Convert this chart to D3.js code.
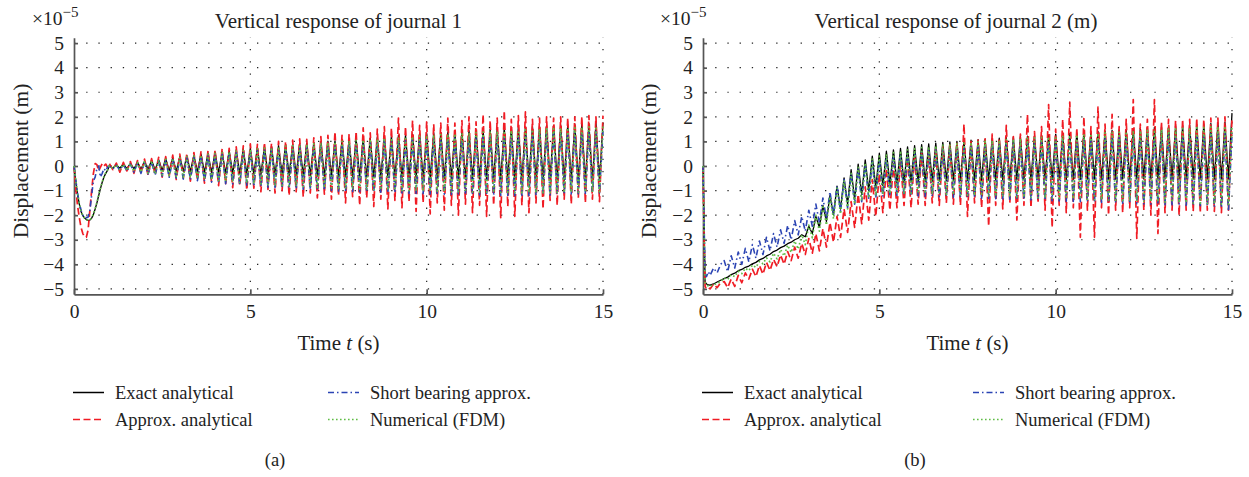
<!DOCTYPE html>
<html lang="en">
<head>
<meta charset="UTF-8">
<title>Vertical response of journals 1 and 2</title>
<script src="https://d3js.org/d3.v7.min.js"></script>
<style>
    * { margin: 0; padding: 0; box-sizing: border-box; }
    html, body { width: 1249px; height: 477px; background: #fff; overflow: hidden; }
    svg { display: block; font-family: "Liberation Serif", "DejaVu Serif", serif; }
    .axis text { font-size: 19.5px; fill: #222; }
    .axis path, .axis line { stroke: #555; stroke-width: 1.7; }
    .grid line { stroke: #222; stroke-width: 1.2; stroke-dasharray: 1.3, 10.9; }
</style>
</head>
<body>
<svg id="chart" width="1249" height="477"></svg>
<script>
// ---------- data: time in s, displacement in units of 1e-5 m ----------
const seriesNames = ["Exact analytical", "Approx. analytical", "Short bearing approx.", "Numerical (FDM)"];
const xTicks = [0, 5, 10, 15];
const yTicks = [-5, -4, -3, -2, -1, 0, 1, 2, 3, 4, 5];

// (a) journal 1, start-up
const tA0 = [0, 0.05, 0.1, 0.15, 0.2, 0.25, 0.3, 0.35, 0.4, 0.45, 0.5, 0.55, 0.6, 0.65, 0.7, 0.75, 0.8, 0.85, 0.9, 0.95];
const aExact0  = [0, -0.6, -1.15, -1.55, -1.85, -2.02, -2.12, -2.18, -2.21, -2.2, -2.12, -1.98, -1.75, -1.5, -1.2, -0.92, -0.66, -0.45, -0.3, -0.18];
const aApprox0 = [0, -0.9, -1.6, -2.1, -2.5, -2.75, -2.88, -2.9, -2.6, -1.8, -1.0, -0.3, 0.1, 0.05, -0.2, -0.05, 0.1, 0.0, 0.08, -0.05];
const aShort0  = [0, -0.55, -1.1, -1.5, -1.8, -2.0, -2.1, -2.1, -2.08, -1.8, -1.2, -0.6, -0.45, -0.1, 0.0, -0.45, -0.3, -0.1, -0.2, -0.05];
const aFdm0    = [0, -0.58, -1.13, -1.53, -1.84, -2.01, -2.12, -2.18, -2.2, -2.19, -2.1, -1.96, -1.73, -1.48, -1.18, -0.9, -0.64, -0.43, -0.28, -0.16];

// (a) oscillation: peak instants, each trough lies halfway to the next peak
const tA = [1.0, 1.2, 1.4, 1.6, 1.8, 2.0, 2.2, 2.4, 2.6, 2.8, 3.0, 3.2, 3.4, 3.6, 3.8, 4.0, 4.2, 4.4, 4.6, 4.8,
    5.0, 5.2, 5.4, 5.6, 5.8, 6.0, 6.2, 6.4, 6.6, 6.8, 7.0, 7.2, 7.4, 7.6, 7.8, 8.0, 8.2, 8.4, 8.6, 8.8,
    9.0, 9.2, 9.4, 9.6, 9.8, 10.0, 10.2, 10.4, 10.6, 10.8, 11.0, 11.2, 11.4, 11.6, 11.8, 12.0, 12.2, 12.4, 12.6, 12.8,
    13.0, 13.2, 13.4, 13.6, 13.8, 14.0, 14.2, 14.4, 14.6, 14.8, 15.0];
const aExactHi = [0.00, 0.04, 0.08, 0.11, 0.16, 0.19, 0.23, 0.26, 0.31, 0.34, 0.38, 0.42, 0.44, 0.49, 0.52,
    0.56, 0.58, 0.63, 0.66, 0.70, 0.72, 0.76, 0.78, 0.81, 0.83, 0.86, 0.88, 0.91, 0.93, 0.96,
    0.98, 1.01, 1.02, 1.06, 1.07, 1.10, 1.13, 1.14, 1.18, 1.19, 1.22, 1.25, 1.26, 1.30, 1.31,
    1.33, 1.36, 1.37, 1.39, 1.40, 1.43, 1.44, 1.47, 1.48, 1.50, 1.52, 1.55, 1.55, 1.58, 1.58,
    1.61, 1.62, 1.64, 1.65, 1.67, 1.68, 1.70, 1.71, 1.73, 1.74, 1.75];
const aExactLo = [-0.08, -0.09, -0.11, -0.12, -0.13, -0.15, -0.16, -0.18, -0.19, -0.21, -0.22, -0.23, -0.25, -0.26, -0.27,
    -0.28, -0.30, -0.31, -0.31, -0.33, -0.34, -0.35, -0.35, -0.37, -0.37, -0.38, -0.39, -0.40, -0.40, -0.41,
    -0.42, -0.42, -0.43, -0.44, -0.44, -0.45, -0.45, -0.46, -0.47, -0.47, -0.48, -0.48, -0.49, -0.49, -0.50,
    -0.50, -0.51, -0.51, -0.52, -0.52, -0.53, -0.53, -0.53, -0.54, -0.54, -0.55, -0.55, -0.55, -0.56, -0.56,
    -0.56, -0.57, -0.57, -0.57, -0.58, -0.58, -0.58, -0.59, -0.59, -0.60];
const aApproxHi = [0.10, 0.12, 0.15, 0.18, 0.22, 0.28, 0.30, 0.35, 0.38, 0.44, 0.48, 0.50, 0.55, 0.58, 0.62,
    0.65, 0.70, 0.72, 0.78, 0.82, 0.90, 0.88, 0.95, 0.92, 1.00, 1.00, 1.05, 1.10, 1.08, 1.15,
    1.20, 1.25, 1.40, 1.25, 1.30, 1.40, 1.55, 1.35, 1.50, 1.60, 1.55, 1.95, 1.60, 1.85, 1.65,
    1.80, 1.70, 1.75, 1.95, 1.75, 1.85, 2.00, 1.80, 2.10, 1.85, 1.95, 2.25, 1.90, 2.05, 2.20,
    1.90, 1.95, 2.00, 1.95, 2.00, 1.95, 2.00, 2.00, 2.05, 2.00, 2.05];
const aApproxLo = [-0.15, -0.25, -0.20, -0.30, -0.28, -0.38, -0.35, -0.45, -0.40, -0.55, -0.50, -0.62, -0.58, -0.70, -0.65,
    -0.80, -0.72, -0.88, -0.80, -0.98, -0.90, -1.05, -0.95, -1.10, -1.00, -1.20, -1.05, -1.25, -1.10, -1.30,
    -1.15, -1.35, -1.20, -1.50, -1.25, -1.60, -1.30, -1.65, -1.35, -1.75, -1.40, -1.70, -1.45, -1.85, -1.50,
    -1.95, -1.50, -1.80, -1.60, -2.00, -1.55, -1.90, -1.60, -2.05, -1.60, -2.10, -1.65, -2.05, -1.60, -1.90,
    -1.50, -1.75, -1.40, -1.60, -1.35, -1.55, -1.30, -1.50, -1.35, -1.45];
const aShortHi = [0.00, 0.03, 0.06, 0.07, 0.11, 0.14, 0.16, 0.21, 0.23, 0.26, 0.30, 0.34, 0.35, 0.40, 0.42,
    0.46, 0.50, 0.51, 0.55, 0.57, 0.61, 0.64, 0.65, 0.69, 0.70, 0.72, 0.75, 0.76, 0.79, 0.80,
    0.82, 0.85, 0.86, 0.88, 0.91, 0.92, 0.94, 0.96, 0.97, 1.00, 1.00, 1.03, 1.04, 1.06, 1.07,
    1.08, 1.11, 1.11, 1.14, 1.14, 1.15, 1.18, 1.18, 1.21, 1.21, 1.22, 1.25, 1.25, 1.27, 1.28,
    1.29, 1.31, 1.32, 1.34, 1.34, 1.36, 1.38, 1.38, 1.40, 1.41, 1.42];
const aShortLo = [-0.12, -0.17, -0.22, -0.25, -0.30, -0.33, -0.38, -0.41, -0.46, -0.49, -0.53, -0.55, -0.60, -0.62, -0.66,
    -0.68, -0.72, -0.73, -0.77, -0.78, -0.82, -0.83, -0.86, -0.87, -0.90, -0.91, -0.93, -0.94, -0.96, -0.97,
    -0.99, -0.99, -1.02, -1.02, -1.04, -1.05, -1.05, -1.07, -1.07, -1.09, -1.10, -1.10, -1.12, -1.12, -1.13,
    -1.14, -1.14, -1.15, -1.16, -1.17, -1.17, -1.18, -1.18, -1.19, -1.19, -1.20, -1.20, -1.21, -1.20, -1.20,
    -1.19, -1.18, -1.18, -1.16, -1.15, -1.14, -1.13, -1.12, -1.11, -1.10];
const aFdmHi = [0.02, 0.05, 0.07, 0.10, 0.14, 0.17, 0.21, 0.24, 0.27, 0.31, 0.34, 0.38, 0.41, 0.44, 0.48,
    0.51, 0.54, 0.58, 0.61, 0.64, 0.67, 0.70, 0.73, 0.75, 0.78, 0.81, 0.83, 0.86, 0.88, 0.91,
    0.93, 0.95, 0.98, 1.00, 1.02, 1.04, 1.06, 1.09, 1.10, 1.13, 1.14, 1.16, 1.19, 1.20, 1.22,
    1.24, 1.26, 1.28, 1.29, 1.31, 1.33, 1.34, 1.36, 1.38, 1.39, 1.41, 1.42, 1.44, 1.45, 1.47,
    1.48, 1.50, 1.51, 1.52, 1.54, 1.55, 1.56, 1.58, 1.59, 1.60, 1.61];
const aFdmLo = [-0.10, -0.14, -0.18, -0.22, -0.25, -0.29, -0.32, -0.36, -0.39, -0.42, -0.45, -0.48, -0.51, -0.54, -0.57,
    -0.60, -0.62, -0.65, -0.67, -0.69, -0.72, -0.73, -0.76, -0.77, -0.79, -0.81, -0.82, -0.84, -0.85, -0.87,
    -0.88, -0.89, -0.91, -0.92, -0.93, -0.94, -0.95, -0.96, -0.97, -0.98, -0.99, -1.00, -1.00, -1.01, -1.02,
    -1.03, -1.03, -1.04, -1.05, -1.05, -1.06, -1.06, -1.07, -1.07, -1.08, -1.08, -1.08, -1.09, -1.09, -1.09,
    -1.09, -1.09, -1.08, -1.08, -1.08, -1.07, -1.07, -1.06, -1.06, -1.05];

// (b) journal 2, start-up
const tB0 = [0, 0.03, 0.06, 0.1, 0.15, 0.2, 0.3, 0.4, 0.5];
const bExact0  = [0, -2.5, -4.72, -4.8, -4.84, -4.85, -4.8, -4.72, -4.65];
const bApprox0 = [0, -2.7, -4.9, -5.0, -4.95, -5.0, -4.8, -4.95, -4.75];
const bShort0  = [0, -2.3, -4.4, -4.5, -4.3, -4.45, -4.15, -4.35, -4.0];
const bFdm0    = [0, -2.55, -4.76, -4.84, -4.88, -4.88, -4.84, -4.77, -4.7];

// (b) oscillation: peak instants, each trough lies halfway to the next peak
const tB = [0.6, 0.8, 1.0, 1.2, 1.4, 1.6, 1.8, 2.0, 2.2, 2.4, 2.6, 2.8, 3.0, 3.2, 3.4, 3.6, 3.8, 4.0, 4.2, 4.4, 4.6, 4.8,
    5.0, 5.2, 5.4, 5.6, 5.8, 6.0, 6.2, 6.4, 6.6, 6.8, 7.0, 7.2, 7.4, 7.6, 7.8, 8.0, 8.2, 8.4, 8.6, 8.8,
    9.0, 9.2, 9.4, 9.6, 9.8, 10.0, 10.2, 10.4, 10.6, 10.8, 11.0, 11.2, 11.4, 11.6, 11.8, 12.0, 12.2, 12.4, 12.6, 12.8,
    13.0, 13.2, 13.4, 13.6, 13.8, 14.0, 14.2, 14.4, 14.6, 14.8, 15.0];
const bExactHi = [-4.58, -4.42, -4.26, -4.12, -3.98, -3.82, -3.66, -3.48, -3.32, -3.16, -3.00, -2.80,
    -2.45, -2.05, -1.60, -1.20, -0.82, -0.48, -0.15, 0.08, 0.25, 0.40,
    0.52, 0.60, 0.66, 0.72, 0.78, 0.83, 0.87, 0.90, 0.93, 0.96, 0.98, 1.00, 1.02, 1.05, 1.07,
    1.09, 1.11, 1.13, 1.15, 1.17, 1.19, 1.21, 1.23, 1.25, 1.27, 1.29, 1.31, 1.33, 1.35, 1.37,
    1.39, 1.41, 1.43, 1.45, 1.47, 1.49, 1.51, 1.53, 1.55, 1.57, 1.59, 1.61, 1.63, 1.65, 1.67,
    1.69, 1.71, 1.73, 1.75, 1.78, 2.15];
const bExactLo = [-4.52, -4.36, -4.21, -4.07, -3.92, -3.76, -3.59, -3.42, -3.26, -3.10, -2.94, -2.88,
    -2.75, -2.50, -2.25, -1.98, -1.75, -1.55, -1.35, -1.15, -1.00, -0.88,
    -0.80, -0.74, -0.70, -0.68, -0.66, -0.64, -0.63, -0.62, -0.61, -0.60, -0.60, -0.59, -0.59, -0.58, -0.58,
    -0.58, -0.57, -0.57, -0.57, -0.56, -0.56, -0.56, -0.56, -0.55, -0.55, -0.55, -0.55, -0.55, -0.54, -0.54,
    -0.54, -0.54, -0.54, -0.54, -0.53, -0.53, -0.53, -0.53, -0.53, -0.53, -0.53, -0.53, -0.53, -0.53, -0.53,
    -0.53, -0.53, -0.53, -0.53, -0.53];
const bApproxHi = [-4.70, -4.60, -4.45, -4.35, -4.20, -4.05, -3.92, -3.80, -3.62, -3.48, -3.30, -3.15,
    -2.95, -2.75, -2.55, -2.30, -2.05, -1.75, -1.45, -1.15, -0.85, -0.55,
    -0.30, -0.10, 0.10, 0.22, 0.35, 0.45, 0.55, 0.60, 0.70, 0.78, 0.85, 0.95, 1.70, 1.00, 1.05,
    1.10, 1.30, 1.15, 1.65, 1.20, 1.30, 2.10, 1.40, 1.60, 2.50, 1.50, 1.90, 2.60, 1.55, 2.00,
    1.60, 2.40, 1.70, 2.10, 1.60, 1.90, 2.70, 1.70, 1.90, 2.70, 1.80, 1.90, 1.85, 1.90, 1.90,
    1.95, 1.90, 1.95, 1.95, 2.00, 1.95];
const bApproxLo = [-4.95, -4.90, -4.75, -4.60, -4.50, -4.40, -4.25, -4.10, -4.00, -3.85, -3.75, -3.60,
    -3.55, -3.45, -3.30, -3.10, -2.90, -2.70, -2.50, -2.35, -2.20, -2.05,
    -1.90, -1.80, -1.70, -1.60, -1.70, -1.55, -1.60, -1.50, -1.60, -1.50, -1.55, -1.60, -2.05, -1.50, -1.70,
    -2.45, -1.60, -1.75, -1.50, -2.20, -1.60, -1.70, -1.50, -1.80, -2.50, -1.60, -1.90, -1.70, -2.90, -1.80,
    -2.90, -1.70, -2.00, -1.80, -1.90, -1.70, -2.95, -1.80, -2.00, -2.75, -1.90, -1.80, -2.00, -1.80, -1.85,
    -1.90, -1.80, -1.85, -1.90, -1.80];
const bShortHi = [-3.85, -3.65, -3.50, -3.35, -3.20, -3.05, -2.90, -2.75, -2.60, -2.42, -2.22, -2.05,
    -1.80, -1.55, -1.30, -1.05, -0.80, -0.55, -0.30, -0.12, 0.05, 0.18,
    0.28, 0.36, 0.42, 0.47, 0.52, 0.56, 0.60, 0.63, 0.66, 0.69, 0.72, 0.74, 0.76, 0.79, 0.81,
    0.83, 0.85, 0.87, 0.89, 0.91, 0.93, 0.95, 0.96, 0.98, 1.00, 1.02, 1.03, 1.05, 1.06, 1.08,
    1.09, 1.11, 1.12, 1.14, 1.15, 1.16, 1.18, 1.19, 1.20, 1.22, 1.23, 1.24, 1.25, 1.27, 1.28,
    1.29, 1.30, 1.31, 1.32, 1.33, 1.34];
const bShortLo = [-4.30, -4.15, -4.00, -3.90, -3.75, -3.60, -3.45, -3.30, -3.15, -3.00, -2.80, -2.65,
    -2.45, -2.30, -2.15, -2.00, -1.85, -1.70, -1.55, -1.45, -1.35, -1.30,
    -1.25, -1.22, -1.20, -1.20, -1.21, -1.22, -1.23, -1.24, -1.25, -1.26, -1.27, -1.28, -1.29, -1.30, -1.31,
    -1.32, -1.33, -1.34, -1.35, -1.36, -1.37, -1.38, -1.39, -1.40, -1.41, -1.42, -1.43, -1.44, -1.45, -1.46,
    -1.47, -1.48, -1.49, -1.50, -1.51, -1.52, -1.53, -1.54, -1.55, -1.56, -1.57, -1.58, -1.59, -1.60, -1.61,
    -1.62, -1.64, -1.66, -1.70, -1.85];
const bFdmHi = [-4.55, -4.42, -4.28, -4.16, -4.03, -3.88, -3.74, -3.55, -3.40, -3.22, -3.05, -2.80,
    -2.40, -2.00, -1.60, -1.25, -0.90, -0.60, -0.30, -0.05, 0.12, 0.28,
    0.40, 0.48, 0.55, 0.61, 0.66, 0.71, 0.75, 0.79, 0.82, 0.85, 0.88, 0.91, 0.93, 0.96, 0.98,
    1.00, 1.03, 1.05, 1.07, 1.09, 1.11, 1.13, 1.15, 1.17, 1.19, 1.21, 1.23, 1.25, 1.27, 1.29,
    1.31, 1.33, 1.35, 1.36, 1.38, 1.40, 1.42, 1.43, 1.45, 1.47, 1.48, 1.50, 1.51, 1.53, 1.54,
    1.56, 1.57, 1.59, 1.60, 1.62, 1.63];
const bFdmLo = [-4.62, -4.50, -4.38, -4.26, -4.12, -3.98, -3.90, -3.78, -3.66, -3.52, -3.38, -3.20,
    -2.92, -2.65, -2.40, -2.15, -1.95, -1.75, -1.55, -1.40, -1.30, -1.20,
    -1.15, -1.12, -1.10, -1.10, -1.11, -1.12, -1.13, -1.14, -1.15, -1.16, -1.17, -1.18, -1.19, -1.20, -1.21,
    -1.22, -1.23, -1.24, -1.25, -1.26, -1.27, -1.28, -1.29, -1.30, -1.31, -1.32, -1.33, -1.34, -1.35, -1.36,
    -1.37, -1.38, -1.39, -1.40, -1.41, -1.42, -1.43, -1.44, -1.45, -1.46, -1.47, -1.48, -1.49, -1.50, -1.51,
    -1.52, -1.53, -1.54, -1.55, -1.56];

// ---------- drawing ----------
const lineStyles = [
    { color: "#000000", dash: null, width: 1.3 },
    { color: "#f01c24", dash: "7,3.5", width: 1.7 },
    { color: "#2b44b4", dash: "6,3,1.5,3", width: 1.6 },
    { color: "#5fbd45", dash: "1.6,2.4", width: 1.7 }
];

const panels = [
    {
        left: 74, right: 603, title: "Vertical response of journal 1", titleX: 338.5,
        tag: "(a)", tagX: 275, yLabelX: 28, expX: 32, legendX: [73, 328],
        t0: tA0, tp: tA,
        series: [[aExact0, aExactHi, aExactLo], [aApprox0, aApproxHi, aApproxLo],
                 [aShort0, aShortHi, aShortLo], [aFdm0, aFdmHi, aFdmLo]]
    },
    {
        left: 703, right: 1232, title: "Vertical response of journal 2 (m)", titleX: 956,
        tag: "(b)", tagX: 915, yLabelX: 656, expX: 660, legendX: [702, 973],
        t0: tB0, tp: tB,
        series: [[bExact0, bExactHi, bExactLo], [bApprox0, bApproxHi, bApproxLo],
                 [bShort0, bShortHi, bShortLo], [bFdm0, bFdmHi, bFdmLo]]
    }
];

const svg = d3.select("#chart");
svg.append("rect").attr("width", 1249).attr("height", 477).attr("fill", "#fff");

const yTop = 37.7, yBottom = 294.3;

function toPoints(t0, v0, tp, hi, lo) {
    const pts = t0.map((t, i) => [t, v0[i]]);
    tp.forEach((t, i) => {
        pts.push([t, hi[i]]);
        if (i < lo.length) pts.push([(t + tp[i + 1]) / 2, lo[i]]);
    });
    return pts;
}

panels.forEach(p => {
    const x = d3.scaleLinear().domain([0, 15]).range([p.left, p.right]);
    const y = d3.scaleLinear().domain([-5.22, 5.22]).range([yBottom, yTop]);
    const g = svg.append("g");

    // dotted grid
    const grid = g.append("g").attr("class", "grid");
    grid.selectAll("line.h").data(yTicks).join("line").attr("class", "h")
        .attr("x1", x(0)).attr("x2", x(15))
        .attr("y1", d => y(d)).attr("y2", d => y(d));
    grid.selectAll("line.v").data(xTicks.slice(1)).join("line").attr("class", "v")
        .attr("x1", d => x(d)).attr("x2", d => x(d))
        .attr("y1", yBottom).attr("y2", yTop);

    // axes (drop d3's default sans-serif so the serif face is inherited)
    g.append("g").attr("class", "axis")
        .attr("transform", `translate(${p.left},0)`)
        .call(d3.axisLeft(y).tickValues(yTicks).tickSize(-4).tickSizeOuter(0).tickPadding(10)
            .tickFormat(d3.format("d")))
        .attr("font-family", null).attr("font-size", null);
    g.append("g").attr("class", "axis")
        .attr("transform", `translate(0,${yBottom})`)
        .call(d3.axisBottom(x).tickValues(xTicks).tickSize(-5).tickSizeOuter(0).tickPadding(10))
        .attr("font-family", null).attr("font-size", null);

    // curves, drawn over the axes like the original
    const line = d3.line().x(d => x(d[0])).y(d => y(d[1]));
    p.series.forEach((s, i) => {
        const st = lineStyles[i];
        g.append("path")
            .datum(toPoints(p.t0, s[0], p.tp, s[1], s[2]))
            .attr("d", line)
            .attr("fill", "none")
            .attr("stroke", st.color)
            .attr("stroke-width", st.width)
            .attr("stroke-dasharray", st.dash)
            .attr("stroke-linejoin", "round");
    });

    // texts
    g.append("text").attr("x", p.titleX).attr("y", 28).attr("text-anchor", "middle")
        .attr("font-size", 21).attr("fill", "#222").text(p.title);

    const ex = g.append("text").attr("x", p.expX).attr("y", 25).attr("font-size", 19.5).attr("fill", "#222");
    ex.append("tspan").text("×10");
    ex.append("tspan").attr("dy", -8).attr("font-size", 15).text("−5");

    g.append("text")
        .attr("transform", `translate(${p.yLabelX},${(yTop + yBottom) / 2 - 5}) rotate(-90)`)
        .attr("text-anchor", "middle").attr("font-size", 21.5).attr("fill", "#222")
        .text("Displacement (m)");

    const xl = g.append("text").attr("x", (p.left + p.right) / 2).attr("y", 350)
        .attr("text-anchor", "middle").attr("font-size", 21).attr("fill", "#222");
    xl.append("tspan").text("Time ");
    xl.append("tspan").attr("font-style", "italic").text("t");
    xl.append("tspan").text(" (s)");

    // legend: two columns, two rows
    const rows = [392.5, 419.5];
    seriesNames.forEach((name, i) => {
        const lx = p.legendX[Math.floor(i / 2)];
        const ly = rows[i % 2];
        const st = lineStyles[i];
        g.append("line").attr("x1", lx).attr("x2", lx + 31).attr("y1", ly).attr("y2", ly)
            .attr("stroke", st.color).attr("stroke-width", 1.5)
            .attr("stroke-dasharray", st.dash);
        g.append("text").attr("x", lx + 42).attr("y", ly + 6.5)
            .attr("font-size", 18.5).attr("fill", "#222").text(name);
    });

    g.append("text").attr("x", p.tagX).attr("y", 466).attr("text-anchor", "middle")
        .attr("font-size", 18.5).attr("fill", "#222").text(p.tag);
});
</script>
</body>
</html>
